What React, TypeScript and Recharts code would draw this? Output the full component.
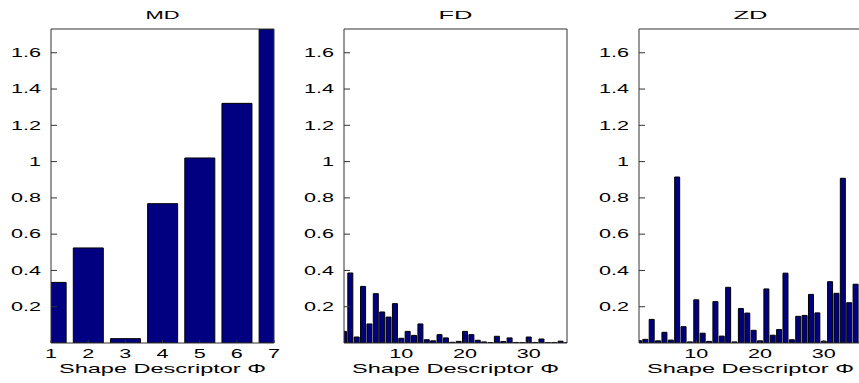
import { BarChart, Bar, XAxis, YAxis } from 'recharts';

// moment, fourier and zernike descriptor magnitudes
const mdValues = [0.334, 0.524, 0.024, 0.768, 1.02, 1.321, 1.731];
const fdValues = [
  0.064, 0.386, 0.033, 0.312, 0.105, 0.272, 0.171, 0.143, 0.217, 0.026,
  0.064, 0.042, 0.105, 0.018, 0.012, 0.046, 0.028, 0.004, 0.009, 0.064,
  0.046, 0.015, 0.006, 0.002, 0.037, 0.008, 0.028, 0.003, 0.002, 0.033,
  0.003, 0.022, 0.002, 0.002, 0.01, 0.002,
];
const zdValues = [
  0.013, 0.02, 0.13, 0.012, 0.059, 0.016, 0.915, 0.09, 0.006, 0.238,
  0.054, 0.009, 0.228, 0.038, 0.307, 0.006, 0.19, 0.165, 0.07, 0.012,
  0.298, 0.043, 0.074, 0.385, 0.018, 0.147, 0.152, 0.268, 0.166, 0.01,
  0.338, 0.274, 0.908, 0.222, 0.324, 0.037,
];

const mdTicks = [1, 2, 3, 4, 5, 6, 7];
const longTicks = [10, 20, 30];
const yTicks = [0.2, 0.4, 0.6, 0.8, 1, 1.2, 1.4, 1.6];
const yMax = 1.731;
const xLabel = 'Shape Descriptor \u03a6';

const NAVY = '#000080';
const BOX = '#333';
const FONT = '"Liberation Sans", Arial, sans-serif';
const STRETCH = 1.8;

// plot box inside each panel's svg
const PLOT_LEFT = 51;
const PLOT_W = 223;
const PLOT_TOP = 29;
const PLOT_CX = PLOT_LEFT + PLOT_W / 2;

function YTick({ x, y, payload }: any) {
  return (
    <text
      transform={`translate(${x},${y}) scale(${STRETCH},1)`}
      textAnchor="end"
      dy={4.3}
      fontSize={12}
      fontFamily={FONT}
      fill="#000"
    >
      {payload.value}
    </text>
  );
}

function XTick({ x, y, payload }: any) {
  return (
    <text
      transform={`translate(${x},${y}) scale(${STRETCH},1)`}
      textAnchor="middle"
      dy={9.5}
      fontSize={12}
      fontFamily={FONT}
      fill="#000"
    >
      {payload.value}
    </text>
  );
}

function StretchedText({ text, cx, y, len, size }: any) {
  return (
    <text
      x={cx - len / 2}
      y={y}
      textLength={len}
      lengthAdjust="spacingAndGlyphs"
      fontSize={size}
      fontFamily={FONT}
      fill="#000"
    >
      {text}
    </text>
  );
}

interface PanelProps {
  title: string;
  values: number[];
  xMax: number;
  xTicks: number[];
  left: number;
}

function Panel({ title, values, xMax, xTicks, left }: PanelProps) {
  const data = values.map((v, i) => ({ phi: i + 1, value: v }));

  return (
    <div style={{ position: 'absolute', left, top: 0 }}>
      <BarChart
        width={PLOT_LEFT + PLOT_W + 10}
        height={383}
        data={data}
        margin={{ top: 0, right: 0, bottom: 0, left: 0 }}
        barCategoryGap="10%"
      >
        <XAxis
          xAxisId="bottom"
          dataKey="phi"
          type="number"
          domain={[1, xMax]}
          allowDataOverflow
          ticks={xTicks}
          interval={0}
          height={40}
          tickSize={-3}
          tickMargin={8}
          tick={<XTick />}
          axisLine={{ stroke: BOX }}
          tickLine={{ stroke: BOX }}
          label={() => <StretchedText text={xLabel} cx={PLOT_CX} y={372.5} len={207} size={13} />}
        />
        <XAxis
          xAxisId="top"
          orientation="top"
          type="number"
          domain={[1, xMax]}
          allowDataOverflow
          ticks={xTicks}
          interval={0}
          height={PLOT_TOP}
          tickSize={-3}
          tick={false}
          axisLine={{ stroke: BOX }}
          tickLine={{ stroke: BOX }}
          label={() => <StretchedText text={title} cx={PLOT_CX} y={18.5} len={title.length * 17} size={11} />}
        />
        <YAxis
          yAxisId="left"
          type="number"
          domain={[0, yMax]}
          allowDataOverflow
          ticks={yTicks}
          interval={0}
          width={PLOT_LEFT}
          tickSize={-6}
          tickMargin={16}
          tick={<YTick />}
          axisLine={{ stroke: BOX }}
          tickLine={{ stroke: BOX }}
        />
        <YAxis
          yAxisId="right"
          orientation="right"
          type="number"
          domain={[0, yMax]}
          allowDataOverflow
          ticks={yTicks}
          interval={0}
          width={10}
          tickSize={-6}
          tick={false}
          axisLine={{ stroke: BOX }}
          tickLine={{ stroke: BOX }}
        />
        <Bar
          xAxisId="bottom"
          yAxisId="left"
          dataKey="value"
          fill={NAVY}
          stroke="#000"
          strokeWidth={1}
          isAnimationActive={false}
        />
      </BarChart>
    </div>
  );
}

export default function App() {
  return (
    <div
      style={{
        position: 'absolute',
        left: 0,
        top: 0,
        width: 859,
        height: 383,
        overflow: 'hidden',
        background: '#fff',
      }}
    >
      <Panel title="MD" values={mdValues} xMax={7} xTicks={mdTicks} left={0} />
      <Panel title="FD" values={fdValues} xMax={36} xTicks={longTicks} left={293.3} />
      <Panel title="ZD" values={zdValues} xMax={36} xTicks={longTicks} left={587.7} />
    </div>
  );
}
